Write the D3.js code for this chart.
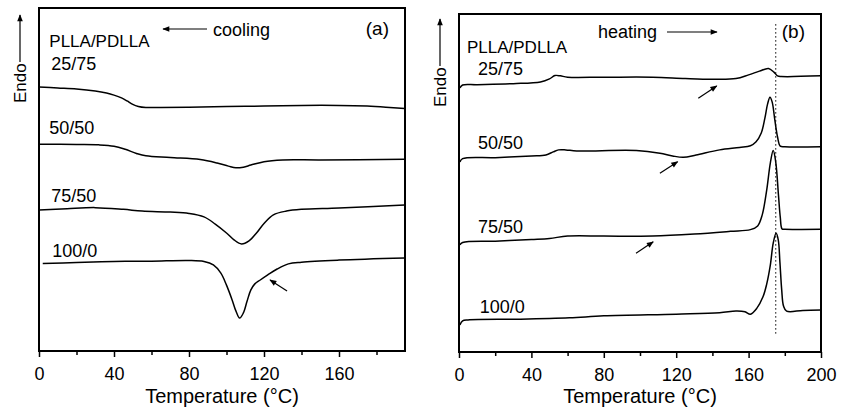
<!DOCTYPE html>
<html>
<head>
<meta charset="utf-8">
<script src="https://cdn.jsdelivr.net/npm/d3@7"></script>
<style>
  body { margin: 0; background: #fff; }
  text { font-family: "Liberation Sans", Arial, sans-serif; fill: #000; }
</style>
</head>
<body>
<div id="chart"></div>
<script>
// DSC traces, heat flow in arbitrary units (endo up)

// (a) cooling
const coolA_25_75 = [[0,77.0],[10,76.7],[20,76.4],[30,75.8],[36,75.2],[40,74.6],[44,73.8],[47,72.9],[50,71.9],[53,71.3],[57,71.0],[65,71.0],[80,71.1],[100,71.3],[120,71.4],[140,71.6],[160,71.6],[175,71.4],[185,71.1],[195,70.7]];
const coolA_50_50 = [[0,60.3],[20,60.2],[32,60.1],[40,59.7],[46,58.8],[52,57.6],[57,56.9],[70,56.4],[86,55.8],[95,54.8],[101,53.9],[105,53.4],[109,53.6],[113,54.2],[120,55.2],[130,55.7],[150,55.7],[195,55.9]];
const coolA_75_50 = [[0,41.1],[15,41.5],[30,41.8],[45,41.3],[55,40.8],[70,40.5],[80,40.1],[88,39.1],[94,37.0],[100,34.4],[104,32.4],[108,31.2],[112,32.1],[116,34.4],[120,37.2],[125,39.7],[132,40.8],[140,41.3],[160,41.7],[195,42.6]];
const coolA_100_0 = [[2,25.5],[20,25.8],[40,26.1],[60,26.2],[80,26.4],[88,26.1],[93,25.1],[97,22.7],[100,19.2],[103,14.9],[105,11.7],[107,9.6],[109,11.1],[111,14.6],[113,17.8],[115,19.5],[118,20.7],[122,22.2],[127,23.9],[133,25.4],[140,25.9],[160,26.5],[195,27.1]];

// (b) heating
const heatB_25_75 = [[0.5,78.1],[2,79.0],[10,79.1],[30,79.4],[45,79.9],[50,80.8],[53,81.8],[56,81.7],[60,81.3],[80,81.3],[107,81.3],[125,80.9],[140,80.7],[153,80.9],[160,82.0],[166,83.1],[171,83.9],[174,82.8],[176,81.7],[178,81.5],[200,81.7]];
const heatB_50_50 = [[0.5,56.2],[2,57.2],[20,57.5],[40,58.0],[48,58.3],[52,59.2],[55,59.8],[59,59.8],[65,59.5],[98,59.6],[111,58.8],[118,58.0],[124,57.6],[131,58.3],[144,59.8],[155,60.5],[161,61.0],[164,62.1],[167,64.8],[169,69.2],[170.5,73.4],[171.8,75.4],[173,74.0],[174.5,68.6],[176,63.6],[177.5,60.9],[180,60.7],[200,60.7]];
const heatB_75_50 = [[0.5,31.7],[2,32.4],[20,32.8],[40,33.3],[50,33.6],[60,34.3],[80,34.3],[107,34.3],[130,34.9],[150,35.7],[161,36.2],[165,37.3],[167.5,40.5],[170,47.9],[172,55.9],[173.6,59.6],[175,56.2],[176.5,46.4],[177.5,39.9],[178.5,36.4],[180,36.3],[200,36.3]];
const heatB_100_0 = [[0.5,8.0],[2,9.2],[5,9.5],[34,9.7],[61,10.1],[80,10.7],[120,11.2],[144,11.6],[153,12.1],[158,11.9],[161,11.2],[164.5,12.9],[168,16.4],[170,20.1],[172,25.7],[173.6,32.2],[175.2,35.1],[176.4,33.1],[177.3,26.6],[178.3,18.3],[179.3,13.6],[181,12.1],[190,12.3],[200,12.4]];

const seriesNames = ["25/75", "50/50", "75/50", "100/0"];
const xTicksA = [0, 40, 80, 120, 160];
const xTicksB = [0, 40, 80, 120, 160, 200];
const meltLine = 175;   // dotted line in (b), degC

const width = 842, height = 408;

const svg = d3.select("#chart")
    .append("svg")
    .attr("width", width)
    .attr("height", height);

const defs = svg.append("defs");
defs.append("marker")
    .attr("id", "head")
    .attr("viewBox", "0 0 10 10")
    .attr("refX", 9).attr("refY", 5)
    .attr("markerWidth", 9).attr("markerHeight", 7)
    .attr("markerUnits", "userSpaceOnUse")
    .attr("orient", "auto")
    .append("path")
    .attr("d", "M0,1 L10,5 L0,9 Z")
    .attr("fill", "#000");

function panel(opt) {
    const x = d3.scaleLinear().domain(opt.xDomain).range([opt.left, opt.right]);
    const y = d3.scaleLinear().domain([0, 100]).range([opt.bottom, opt.top]);

    const g = svg.append("g");

    // minor + major ticks, outward
    g.append("g")
        .attr("transform", `translate(0,${opt.bottom})`)
        .call(d3.axisBottom(x).tickValues(d3.range(20, opt.xDomain[1], 40)).tickSize(4).tickFormat(""))
        .call(a => a.select(".domain").remove())
        .selectAll("line").attr("stroke-width", 1.5);

    g.append("g")
        .attr("transform", `translate(0,${opt.bottom})`)
        .call(d3.axisBottom(x).tickValues(opt.ticks).tickSize(6).tickPadding(9))
        .call(a => a.select(".domain").remove())
        .call(a => a.selectAll("line").attr("stroke-width", 1.5))
        .call(a => a.selectAll("text").attr("font-size", 18).attr("dy", "0.75em"));

    // frame
    g.append("rect")
        .attr("x", opt.left).attr("y", opt.top)
        .attr("width", opt.right - opt.left)
        .attr("height", opt.bottom - opt.top)
        .attr("fill", "none").attr("stroke", "#000").attr("stroke-width", 2);

    const line = d3.line()
        .x(d => x(d[0]))
        .y(d => y(d[1]))
        .curve(d3.curveCatmullRom.alpha(0.5));

    if (opt.vline != null) {
        g.append("line")
            .attr("x1", x(opt.vline)).attr("x2", x(opt.vline))
            .attr("y1", y(97)).attr("y2", y(5))
            .attr("stroke", "#000").attr("stroke-width", 1)
            .attr("stroke-dasharray", "1.5,2.5");
    }

    g.selectAll(".trace")
        .data(opt.series)
        .join("path")
        .attr("class", "trace")
        .attr("d", line)
        .attr("fill", "none")
        .attr("stroke", "#000")
        .attr("stroke-width", 1.5);

    // curve labels
    g.selectAll(".lab")
        .data(opt.labels)
        .join("text")
        .attr("class", "lab")
        .attr("x", d => x(d[0]))
        .attr("y", d => y(d[1]))
        .attr("font-size", 18)
        .text((d, i) => seriesNames[i]);

    g.append("text")
        .attr("x", x(opt.headPos[0])).attr("y", y(opt.headPos[1]))
        .attr("font-size", 17)
        .text("PLLA/PDLLA");

    // small arrows pointing at features
    g.selectAll(".ann")
        .data(opt.arrows)
        .join("line")
        .attr("class", "ann")
        .attr("x1", d => x(d[0])).attr("y1", d => y(d[1]))
        .attr("x2", d => x(d[2])).attr("y2", d => y(d[3]))
        .attr("stroke", "#000").attr("stroke-width", 1.2)
        .attr("marker-end", "url(#head)");

    // x label
    g.append("text")
        .attr("x", (opt.left + opt.right) / 2)
        .attr("y", 403)
        .attr("text-anchor", "middle")
        .attr("font-size", 20)
        .text("Temperature (\u00B0C)");

    // Endo arrow
    const ex = opt.left - 19;
    const e = g.append("g").attr("transform", `translate(${ex},${opt.endoY}) rotate(-90)`);
    e.append("text")
        .attr("x", 0).attr("y", 6)
        .attr("font-size", 17)
        .text("Endo");
    e.append("line")
        .attr("x1", 41).attr("x2", 88)
        .attr("y1", 0).attr("y2", 0)
        .attr("stroke", "#000").attr("stroke-width", 1.2)
        .attr("marker-end", "url(#head)");

    // panel letter
    g.append("text")
        .attr("x", opt.right - 16).attr("y", opt.letterY)
        .attr("text-anchor", "end")
        .attr("font-size", 19)
        .text(opt.letter);

    return { x, y, g };
}

const pa = panel({
    left: 39, right: 405, top: 8, bottom: 351,
    xDomain: [0, 195.2], ticks: xTicksA,
    series: [coolA_25_75, coolA_50_50, coolA_75_50, coolA_100_0],
    labels: [[6.5, 81.9], [5.5, 63.3], [6.5, 43.4], [7, 27.4]],
    headPos: [5.5, 88.6],
    arrows: [[132.3, 17.5, 123.2, 20.7]],
    endoY: 103, letter: "(a)", letterY: 35
});

pa.g.append("text")
    .attr("x", 213).attr("y", 36)
    .attr("font-size", 18)
    .text("cooling");
pa.g.append("line")
    .attr("x1", 207).attr("x2", 163)
    .attr("y1", 29).attr("y2", 29)
    .attr("stroke", "#000").attr("stroke-width", 1.2)
    .attr("marker-end", "url(#head)");

const pb = panel({
    left: 459, right: 821, top: 14, bottom: 352,
    xDomain: [0, 200], ticks: xTicksB,
    series: [heatB_25_75, heatB_50_50, heatB_75_50, heatB_100_0],
    labels: [[10.5, 82.0], [10.5, 60.1], [10.5, 35.2], [11.5, 11.5]],
    headPos: [4.4, 88.5],
    arrows: [[132.2, 75.1, 142.4, 78.7], [111.0, 52.9, 120.8, 56.3], [97.8, 29.2, 107.3, 32.6]],
    vline: meltLine,
    endoY: 107, letter: "(b)", letterY: 38
});

pb.g.append("text")
    .attr("x", 598).attr("y", 38)
    .attr("font-size", 18)
    .text("heating");
pb.g.append("line")
    .attr("x1", 667).attr("x2", 717)
    .attr("y1", 32).attr("y2", 32)
    .attr("stroke", "#000").attr("stroke-width", 1.2)
    .attr("marker-end", "url(#head)");
</script>
</body>
</html>
